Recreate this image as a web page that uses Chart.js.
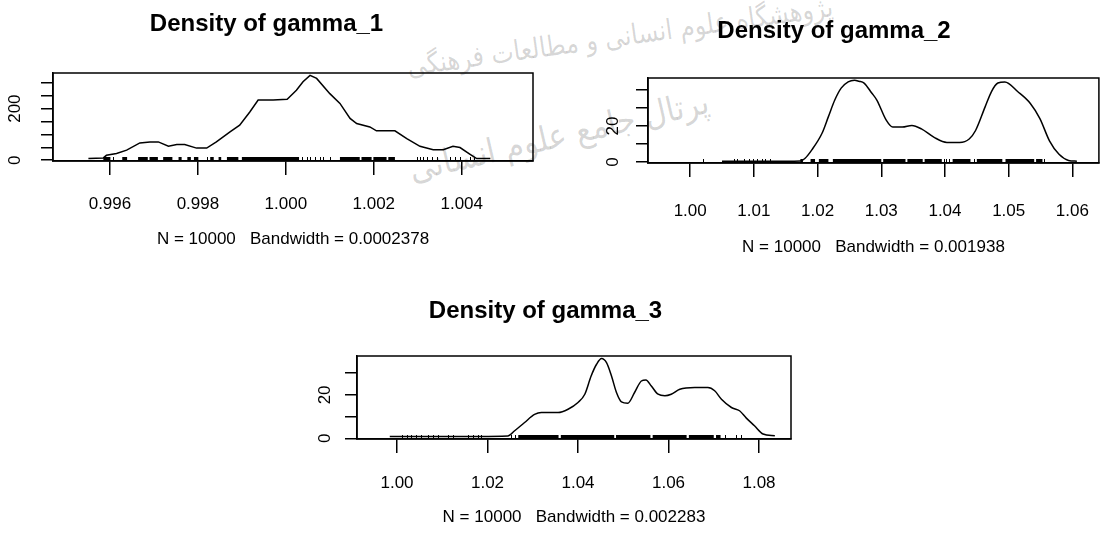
<!DOCTYPE html>
<html>
<head>
<meta charset="utf-8">
<script src="https://cdn.jsdelivr.net/npm/chart.js@4.4.1/dist/chart.umd.min.js"></script>
<style>
  html, body { margin: 0; padding: 0; background: #fff; }
  body { width: 1113px; height: 536px; position: relative; overflow: hidden; }
  .wm { position: absolute; white-space: nowrap; font-family: "DejaVu Sans", "Noto Sans", sans-serif; color: rgba(0,0,0,0.17); z-index: 0; transform-origin: left top; }
  canvas { position: absolute; z-index: 1; }
</style>
</head>
<body>
<div class="wm" style="left:405px; top:50px; font-size:28px; transform:rotate(-8deg) scaleX(0.85);">پژوهشگاه علوم انسانی و مطالعات فرهنگی</div>
<div class="wm" style="left:405px; top:150px; font-size:34px; transform:rotate(-13deg) scaleX(0.9);">پرتال جامع علوم انسانی</div>

<canvas id="c1" style="left:0px; top:0px;" width="556" height="268"></canvas>
<canvas id="c2" style="left:556px; top:0px;" width="557" height="268"></canvas>
<canvas id="c3" style="left:300px; top:268px;" width="530" height="268"></canvas>

<script>
// ---- gamma_1 ----
const title1 = 'Density of gamma_1';
const sub1 = 'N = 10000   Bandwidth = 0.0002378';
const x1 = [0.99551, 0.99585, 0.99592, 0.99615, 0.99638, 0.99668, 0.99691, 0.99710, 0.99733, 0.99752,
            0.99770, 0.99797, 0.99820, 0.99842, 0.99873, 0.99895, 0.99918, 0.99937, 0.99971, 1.00003,
            1.00024, 1.00039, 1.00055, 1.00070, 1.00100, 1.00123, 1.00146, 1.00161, 1.00191, 1.00206,
            1.00248, 1.00275, 1.00305, 1.00335, 1.00358, 1.00380, 1.00396, 1.00419, 1.00434, 1.00465];
const y1 = [6.5, 9, 19, 26, 39, 67, 71, 71, 54, 61,
            61, 47, 47, 71, 110, 136, 187, 233, 233, 236,
            271, 304, 329, 317, 258, 220, 162, 142, 129, 114,
            114, 84, 54, 41, 41, 54, 49, 23, 6.5, 6.5];
const xTicks1 = [0.996, 0.998, 1.000, 1.002, 1.004];
const xTickLabels1 = ['0.996', '0.998', '1.000', '1.002', '1.004'];
const yTicks1 = [0, 50, 100, 150, 200, 250, 300];
const yTickLabels1 = ['0', '', '', '', '200', '', ''];
const rugSpans1 = [[0.99585, 0.99601], [0.99628, 0.99639], [0.99664, 0.99686], [0.99690, 0.99709],
                   [0.99721, 0.99742], [0.99756, 0.99763], [0.99776, 0.99784], [0.99791, 0.99801],
                   [0.99828, 0.99836], [0.99847, 0.99853], [0.99866, 0.99892], [0.99900, 1.00030],
                   [1.00123, 1.00168], [1.00172, 1.00195], [1.00199, 1.00229], [1.00233, 1.00248]];
const rugTicks1 = [0.99607, 0.99821, 1.00036, 1.00047, 1.00055, 1.00066, 1.00077, 1.00085, 1.00100,
                   1.00298, 1.00305, 1.00313, 1.00320, 1.00332, 1.00343, 1.00373, 1.00385, 1.00396,
                   1.00419, 1.00427];

// ---- gamma_2 ----
const title2 = 'Density of gamma_2';
const sub2 = 'N = 10000   Bandwidth = 0.001938';
const x2 = [1.0050, 1.0100, 1.0150, 1.0173, 1.0180, 1.0191, 1.0207, 1.0217, 1.0227, 1.0237,
            1.0248, 1.0258, 1.0265, 1.0273, 1.0285, 1.0293, 1.0308, 1.0318, 1.0333, 1.0348,
            1.0363, 1.0383, 1.0403, 1.0423, 1.0438, 1.0448, 1.0463, 1.0473, 1.0483, 1.0494,
            1.0514, 1.0534, 1.0549, 1.0564, 1.0579, 1.0594, 1.0607];
const y2 = [0.5, 0.5, 0.5, 0.6, 2.0, 6.8, 16.0, 25.2, 34.4, 41.0,
            44.5, 45.4, 44.8, 43.8, 38.3, 34.4, 23.1, 19.4, 19.4, 20.3,
            18.4, 13.7, 10.9, 10.9, 12.8, 17.5, 30.6, 39.1, 43.8, 44.4,
            39.1, 32.5, 24.1, 11.8, 4.3, 0.9, 0.5];
const xTicks2 = [1.00, 1.01, 1.02, 1.03, 1.04, 1.05, 1.06];
const xTickLabels2 = ['1.00', '1.01', '1.02', '1.03', '1.04', '1.05', '1.06'];
const yTicks2 = [0, 10, 20, 30, 40];
const yTickLabels2 = ['0', '', '20', '', ''];
const rugSpans2 = [[1.0173, 1.0177], [1.0189, 1.0196], [1.0202, 1.0217], [1.0224, 1.0300],
                   [1.0303, 1.0338], [1.0341, 1.0365], [1.0368, 1.0395], [1.0412, 1.0440],
                   [1.0450, 1.0490], [1.0495, 1.0540], [1.0543, 1.0553]];
const rugTicks2 = [1.0020, 1.0069, 1.0074, 1.0084, 1.0092, 1.0099, 1.0105, 1.0112, 1.0117, 1.0125,
                   1.0398, 1.0402, 1.0406, 1.0445, 1.0556];

// ---- gamma_3 ----
const title3 = 'Density of gamma_3';
const sub3 = 'N = 10000   Bandwidth = 0.002283';
const x3 = [0.9984, 1.0100, 1.0245, 1.0260, 1.0282, 1.0304, 1.0319, 1.0356, 1.0378, 1.0400,
            1.0415, 1.0429, 1.0441, 1.0452, 1.0463, 1.0474, 1.0485, 1.0496, 1.0510, 1.0525,
            1.0540, 1.0550, 1.0562, 1.0577, 1.0592, 1.0606, 1.0625, 1.0658, 1.0687, 1.0702,
            1.0717, 1.0739, 1.0757, 1.0772, 1.0790, 1.0809, 1.0835];
const y3 = [0.8, 0.8, 1.1, 3.5, 7.3, 11.0, 11.9, 11.9, 13.4, 16.5,
            20.3, 28.7, 34.1, 36.7, 34.8, 28.7, 21.1, 16.8, 16.2, 21.1,
            26.4, 26.9, 24.1, 20.3, 19.6, 20.3, 22.6, 23.4, 23.4, 21.9,
            18.0, 14.2, 12.7, 9.3, 5.8, 2.0, 1.2];
const xTicks3 = [1.00, 1.02, 1.04, 1.06, 1.08];
const xTickLabels3 = ['1.00', '1.02', '1.04', '1.06', '1.08'];
const yTicks3 = [0, 10, 20, 30];
const yTickLabels3 = ['0', '', '20', ''];
const rugSpans3 = [[1.0268, 1.0357], [1.0362, 1.0480], [1.0484, 1.0560], [1.0565, 1.0640],
                   [1.0645, 1.0700], [1.0705, 1.0715]];
const rugTicks3 = [1.0010, 1.0021, 1.0032, 1.0043, 1.0054, 1.0069, 1.0080, 1.0091, 1.0113, 1.0124,
                   1.0157, 1.0168, 1.0179, 1.0186, 1.0253, 1.0260, 1.0724, 1.0750, 1.0761];

const FONT = '"Liberation Sans", Arial, sans-serif';

// box around the plot region + rug marks along the bottom
const boxAndRug = {
  id: 'boxAndRug',
  afterDatasetsDraw(chart, args, opts) {
    const { ctx, chartArea: a, scales } = chart;
    const xs = scales.x;
    ctx.save();
    ctx.strokeStyle = '#000';
    ctx.fillStyle = '#000';
    ctx.lineWidth = 1;
    opts.spans.forEach(([s, e]) => {
      const p0 = xs.getPixelForValue(s), p1 = xs.getPixelForValue(e);
      ctx.fillRect(p0, a.bottom - 4, Math.max(1, p1 - p0), 4);
    });
    opts.ticks.forEach(v => {
      const p = Math.round(xs.getPixelForValue(v)) + 0.5;
      ctx.beginPath();
      ctx.moveTo(p, a.bottom);
      ctx.lineTo(p, a.bottom - 4);
      ctx.stroke();
    });
    ctx.lineWidth = 1.5;
    ctx.strokeRect(a.left, a.top, a.right - a.left, a.bottom - a.top);
    ctx.restore();
  }
};

function makeChart(id, c) {
  const pts = c.xs.map((x, i) => ({ x: x, y: c.ys[i] }));
  return new Chart(document.getElementById(id), {
    type: 'line',
    data: {
      datasets: [{
        data: pts,
        borderColor: '#000',
        borderWidth: 1.5,
        pointRadius: 0,
        tension: c.smooth ? 0.4 : 0,
        cubicInterpolationMode: c.smooth ? 'monotone' : 'default',
        fill: false
      }]
    },
    options: {
      responsive: false,
      animation: false,
      events: [],
      layout: { padding: { top: 0, left: 0, right: c.padRight, bottom: 0 } },
      plugins: {
        legend: { display: false },
        tooltip: { enabled: false },
        title: {
          display: true,
          text: c.title,
          color: '#000',
          font: { family: FONT, size: 24, weight: 'bold' },
          padding: { top: c.titleTop, bottom: c.titleBottom }
        },
        boxAndRug: { spans: c.spans, ticks: c.ticks }
      },
      scales: {
        x: {
          type: 'linear',
          min: c.xMin,
          max: c.xMax,
          afterBuildTicks: axis => { axis.ticks = c.xTicks.map(v => ({ value: v })); },
          afterFit: axis => { axis.height = c.xAxisH; },
          ticks: {
            autoSkip: false,
            maxRotation: 0,
            color: '#000',
            padding: c.xPad,
            font: { family: FONT, size: 17 },
            callback: (v, i) => c.xTickLabels[i]
          },
          grid: { drawOnChartArea: false, drawTicks: true, tickLength: 14, color: '#000', lineWidth: 1.5 },
          border: { display: true, color: '#000', width: 1.5 },
          title: {
            display: true,
            text: c.sub,
            color: '#000',
            font: { family: FONT, size: 17 },
            padding: { top: 0, bottom: c.subBottom }
          }
        },
        y: {
          type: 'linear',
          min: c.yMin,
          max: c.yMax,
          afterBuildTicks: axis => { axis.ticks = c.yTicks.map(v => ({ value: v })); },
          afterFit: axis => { axis.width = c.yAxisW; },
          ticks: {
            autoSkip: false,
            minRotation: 90,
            maxRotation: 90,
            crossAlign: 'center',
            color: '#000',
            padding: c.yPad,
            font: { family: FONT, size: 17 },
            callback: (v, i) => c.yTickLabels[i]
          },
          grid: { drawOnChartArea: false, drawTicks: true, tickLength: 12, color: '#000', lineWidth: 1.5 },
          border: { display: true, color: '#000', width: 1.5 }
        }
      }
    },
    plugins: [boxAndRug]
  });
}

// chart 1: box 53..533 x 73..161
makeChart('c1', {
  title: title1, sub: sub1, xs: x1, ys: y1, smooth: false,
  xTicks: xTicks1, xTickLabels: xTickLabels1, yTicks: yTicks1, yTickLabels: yTickLabels1,
  spans: rugSpans1, ticks: rugTicks1,
  xMin: 0.994705, xMax: 1.00562, yMin: -3, yMax: 338,
  padRight: 23, yAxisW: 53, xAxisH: 107, titleTop: 10, titleBottom: 34.2, subBottom: 18, yPad: 12, xPad: 19
});

// chart 2: box 648..1112 x 78..163
makeChart('c2', {
  title: title2, sub: sub2, xs: x2, ys: y2, smooth: true,
  xTicks: xTicks2, xTickLabels: xTickLabels2, yTicks: yTicks2, yTickLabels: yTickLabels2,
  spans: rugSpans2, ticks: rugTicks2,
  xMin: 0.99338, xMax: 1.06416, yMin: -0.5, yMax: 46.6,
  padRight: 1, yAxisW: 92, xAxisH: 105, titleTop: 16.6, titleBottom: 32.6, subBottom: 10, yPad: 13.5, xPad: 24
});

// chart 3: box 357..791 x 356..439
makeChart('c3', {
  title: title3, sub: sub3, xs: x3, ys: y3, smooth: true,
  xTicks: xTicks3, xTickLabels: xTickLabels3, yTicks: yTicks3, yTickLabels: yTickLabels3,
  spans: rugSpans3, ticks: rugTicks3,
  xMin: 0.99116, xMax: 1.08707, yMin: -0.3, yMax: 37.9,
  padRight: 39, yAxisW: 57, xAxisH: 97, titleTop: 28.6, titleBottom: 30.6, subBottom: 8, yPad: 10.5, xPad: 20
});
</script>
</body>
</html>
